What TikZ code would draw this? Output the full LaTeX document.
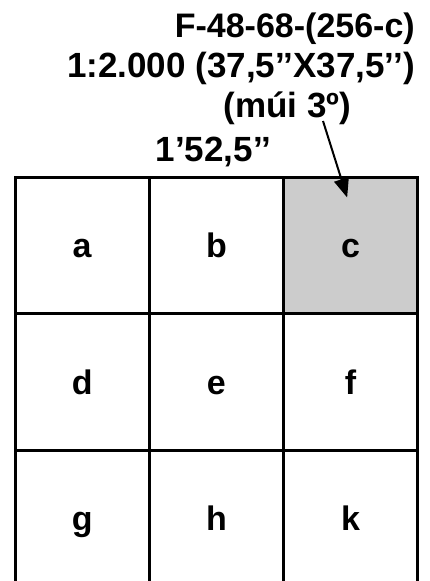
\documentclass[tikz,border=0pt]{standalone}
\usepackage{fontspec}
\setmainfont{Liberation Sans}
\usetikzlibrary{arrows.meta,calc}
\definecolor{cellgray}{HTML}{CCCCCC}
\tikzset{
  cell/.style={draw=black, line width=3pt, minimum width=134.3pt, minimum height=136.5pt,
    inner sep=0pt, text height=25pt, text depth=0pt,
    font=\fontsize{34}{40}\selectfont\bfseries},
  label/.style={inner sep=0pt, font=\fontsize{35}{40}\selectfont\bfseries},
  pointer/.style={line width=2pt, -{Triangle[length=19pt,width=15pt]}}
}
\begin{document}
\begin{tikzpicture}[x=1pt,y=-1pt]
\useasboundingbox (0,0) rectangle (429,581);
\clip (0,0) rectangle (429,581);
\fill[white] (0,0) rectangle (429,581);
% grid cells
\node[cell, fill=white] (a) at (82.15,245.25) {a};
\node[cell, fill=white] (b) at (216.4,245.25) {b};
\node[cell, fill=cellgray] (c) at (350.65,245.25) {c};
\node[cell] (d) at (82.15,381.75) {d};
\node[cell] (e) at (216.4,381.75) {e};
\node[cell] (f) at (350.65,381.75) {f};
\node[cell] (g) at (82.15,518.25) {g};
\node[cell] (h) at (216.4,518.25) {h};
\node[cell] (k) at (350.65,518.25) {k};
% labels
\node[label, anchor=base east, font=\fontsize{34}{40}\selectfont\bfseries] (t1) at (415,37.3) {F-48-68-(256-c)};
\node[label, anchor=base east] (t2) at (415,77.3) {1:2.000 (37,5’’X37,5’’)};
\node[label, anchor=base] (t3) at (287.5,117.3) {(múi 3º)};
\node[label, anchor=base] (t4) at (213.5,161.7) {1’52,5’’};
% arrow
\coordinate (arrowstart) at (323,121);
\coordinate (arrowtip) at ($(c.north)+(-3.5,22)$);
\draw[pointer] (arrowstart) -- (arrowtip);
\end{tikzpicture}
\end{document}
